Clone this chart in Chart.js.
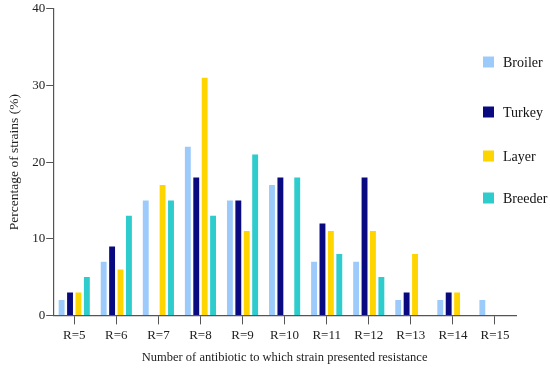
<!DOCTYPE html>
<html>
<head>
<meta charset="utf-8">
<script src="https://cdn.jsdelivr.net/npm/chart.js@4/dist/chart.umd.min.js"></script>
<style>
  html, body { margin: 0; padding: 0; background: #fff; }
  #wrap { width: 550px; height: 368px; position: relative; }
</style>
</head>
<body>
<div id="wrap"><canvas id="chart"></canvas></div>
<script>
// Chart data
const categories = ['R=5', 'R=6', 'R=7', 'R=8', 'R=9', 'R=10', 'R=11', 'R=12', 'R=13', 'R=14', 'R=15'];
const broiler = [2, 7, 15, 22, 15, 17, 7, 7, 2, 2, 2];
const turkey  = [3, 9, 0, 18, 15, 18, 12, 18, 3, 3, 0];
const layer   = [3, 6, 17, 31, 11, 0, 11, 11, 8, 3, 0];
const breeder = [5, 13, 15, 13, 21, 18, 8, 5, 0, 0, 0];
const seriesNames = ['Broiler', 'Turkey', 'Layer', 'Breeder'];
const seriesColors = ['#9ccbfb', '#0a0a80', '#ffd500', '#2ecccc'];

const fontFamily = '"Liberation Serif", "DejaVu Serif", serif';
const axisColor = '#555';

// legend drawn on top of the plot, stacked down the right side
const sideLegend = {
    id: 'sideLegend',
    afterDraw(chart) {
        const ctx = chart.ctx;
        const x = 483;
        const ys = [62, 112, 156, 198];
        ctx.save();
        ctx.font = '14px ' + fontFamily;
        ctx.textBaseline = 'middle';
        chart.data.datasets.forEach((ds, i) => {
            ctx.fillStyle = ds.backgroundColor;
            ctx.fillRect(x, ys[i] - 5.5, 11, 11);
            ctx.fillStyle = '#111';
            ctx.fillText(ds.label, x + 20, ys[i] + 1);
        });
        ctx.restore();
    }
};

const ctx = document.getElementById('chart').getContext('2d');
new Chart(ctx, {
    type: 'bar',
    data: {
        labels: categories,
        datasets: [broiler, turkey, layer, breeder].map((d, i) => ({
            label: seriesNames[i],
            data: d,
            backgroundColor: seriesColors[i],
            categoryPercentage: 0.8,
            barPercentage: 0.7
        }))
    },
    options: {
        responsive: true,
        maintainAspectRatio: false,
        animation: false,
        layout: { padding: { top: 3, right: 34, left: 6, bottom: 3 } },
        plugins: {
            legend: { display: false },
            tooltip: { enabled: false }
        },
        scales: {
            x: {
                offset: true,
                grid: { offset: false, drawOnChartArea: false, drawTicks: true, tickLength: 9, color: axisColor },
                border: { display: true, color: axisColor, width: 1.2 },
                ticks: { color: '#222', font: { family: fontFamily, size: 13 }, padding: 3 },
                title: {
                    display: true,
                    text: 'Number of antibiotic to which strain presented resistance',
                    color: '#222',
                    font: { family: fontFamily, size: 12.5 },
                    padding: { top: 4, bottom: 0 }
                }
            },
            y: {
                min: 0,
                max: 40,
                ticks: { stepSize: 10, color: '#222', font: { family: fontFamily, size: 13 }, padding: 1 },
                grid: { drawOnChartArea: false, drawTicks: true, tickLength: 7, color: axisColor },
                border: { display: true, color: axisColor, width: 1.2 },
                title: {
                    display: true,
                    text: 'Percentage of strains (%)',
                    color: '#222',
                    font: { family: fontFamily, size: 13.5 },
                    padding: { top: 0, bottom: 9 }
                }
            }
        }
    },
    plugins: [sideLegend]
});
</script>
</body>
</html>
